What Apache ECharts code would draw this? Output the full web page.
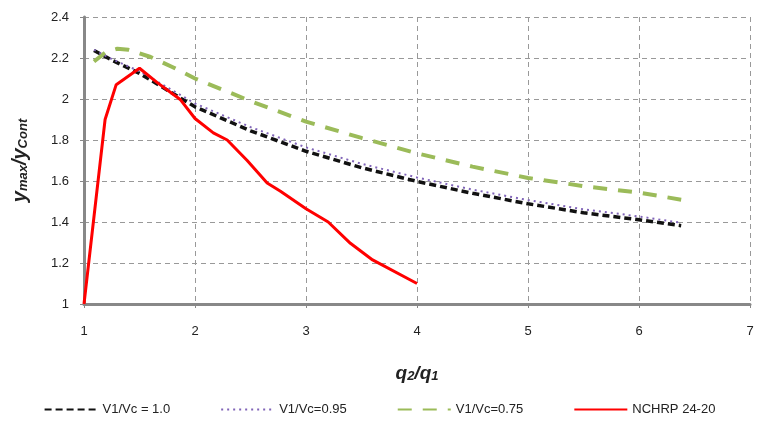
<!DOCTYPE html>
<html><head><meta charset="utf-8">
<script src="https://cdn.jsdelivr.net/npm/echarts@6/dist/echarts.min.js"></script>
<style>html,body{margin:0;padding:0;background:#fff}#c{width:759px;height:445px}</style>
</head><body><div id="c"></div>
<script>
// q2/q1 values and y_max/y_cont values for each series
var qBlack   = [1.09, 1.25, 1.5, 2.0, 2.5, 3.0, 3.5, 4.0, 4.5, 5.0, 5.5, 6.0, 6.38];
var yBlack   = [2.237, 2.19, 2.125, 1.962, 1.845, 1.745, 1.665, 1.598, 1.54, 1.489, 1.445, 1.411, 1.382];
var qPurple  = [1.09, 1.25, 1.5, 2.0, 2.5, 3.0, 3.5, 4.0, 4.5, 5.0, 5.5, 6.0, 6.38];
var yPurple  = [2.24, 2.195, 2.135, 1.978, 1.863, 1.764, 1.684, 1.617, 1.558, 1.507, 1.462, 1.427, 1.396];
var qGreen   = [1.09, 1.2, 1.3, 1.4, 1.6, 1.8, 2.0, 2.5, 3.0, 3.5, 4.0, 4.5, 5.0, 5.5, 6.0, 6.38];
var yGreen   = [2.183, 2.23, 2.245, 2.24, 2.205, 2.155, 2.1, 1.99, 1.89, 1.81, 1.735, 1.67, 1.615, 1.575, 1.543, 1.509];
var qRed     = [1.0, 1.19, 1.29, 1.5, 1.66, 1.87, 2.0, 2.165, 2.29, 2.47, 2.65, 2.77, 3.0, 3.2, 3.4, 3.6, 4.0];
var yRed     = [1.0, 1.9, 2.07, 2.15, 2.08, 1.996, 1.905, 1.835, 1.80, 1.70, 1.59, 1.55, 1.465, 1.40, 1.296, 1.215, 1.10];
var seriesNames = ['V1/Vc = 1.0', 'V1/Vc=0.95', 'V1/Vc=0.75', 'NCHRP 24-20'];
var xTicks = [1, 2, 3, 4, 5, 6, 7];
var yTicks = [1, 1.2, 1.4, 1.6, 1.8, 2, 2.2, 2.4];

function pairs(q, y){ return q.map(function(v,i){ return [v, y[i]]; }); }

var chart = echarts.init(document.getElementById('c'));
var font = 'Liberation Sans';
function rich(big, small){
  return {
    i: { fontSize: big, fontStyle: 'italic', fontWeight: 'bold', fontFamily: font, color: '#222', verticalAlign: 'bottom', lineHeight: big + 4 },
    s: { fontSize: small, fontStyle: 'italic', fontWeight: 'bold', fontFamily: font, color: '#222', verticalAlign: 'bottom', lineHeight: small + 2 }
  };
}
chart.setOption({
  animation: false,
  backgroundColor: '#fff',
  grid: { left: 84, right: 9, top: 17, bottom: 141 },
  xAxis: {
    type: 'value', min: xTicks[0], max: xTicks[xTicks.length-1], interval: 1,
    axisLine: { show: true, lineStyle: { color: '#888', width: 3 } },
    axisTick: { show: true, length: 4, lineStyle: { color: '#888' } },
    axisLabel: { margin: 21, color: '#222', fontSize: 13, fontFamily: font },
    splitLine: { show: true, lineStyle: { color: '#999', type: [5, 4], width: 1 } },
    name: '{i|q}{s|2}{i|/q}{s|1}',
    nameLocation: 'middle', nameGap: 56,
    nameTextStyle: { rich: rich(19, 13) }
  },
  yAxis: {
    type: 'value', min: yTicks[0], max: yTicks[yTicks.length-1], interval: 0.2,
    axisLine: { show: true, lineStyle: { color: '#888', width: 3 } },
    axisTick: { show: true, length: 4, lineStyle: { color: '#888' } },
    axisLabel: { margin: 15, color: '#222', fontSize: 13, fontFamily: font },
    splitLine: { show: true, lineStyle: { color: '#999', type: [5, 4], width: 1 } },
    name: '{i|y}{s|max}{i|/y}{s|Cont}',
    nameLocation: 'middle', nameGap: 54,
    nameTextStyle: { rich: rich(20, 13) }
  },
  legend: {
    bottom: 24, left: 'center', itemWidth: 53, itemHeight: 10, itemGap: 50,
    itemStyle: { opacity: 0 },
    textStyle: { color: '#222', fontSize: 13, fontFamily: font },
    data: seriesNames
  },
  series: [
    { name: seriesNames[0], type: 'line', symbol: 'none', data: pairs(qBlack, yBlack), z: 2,
      lineStyle: { color: '#111', width: 3.5, type: [7, 4] }, itemStyle: { color: '#111' } },
    { name: seriesNames[1], type: 'line', symbol: 'none', data: pairs(qPurple, yPurple), z: 3,
      lineStyle: { color: '#8064B8', width: 2, type: [2, 4] }, itemStyle: { color: '#8064B8' } },
    { name: seriesNames[2], type: 'line', symbol: 'none', data: pairs(qGreen, yGreen), z: 2,
      lineStyle: { color: '#9BBB59', width: 4, type: [14, 11] }, itemStyle: { color: '#9BBB59' } },
    { name: seriesNames[3], type: 'line', symbol: 'none', data: pairs(qRed, yRed), z: 4,
      lineStyle: { color: '#FF0000', width: 3 }, itemStyle: { color: '#FF0000' } }
  ]
});
</script></body></html>
